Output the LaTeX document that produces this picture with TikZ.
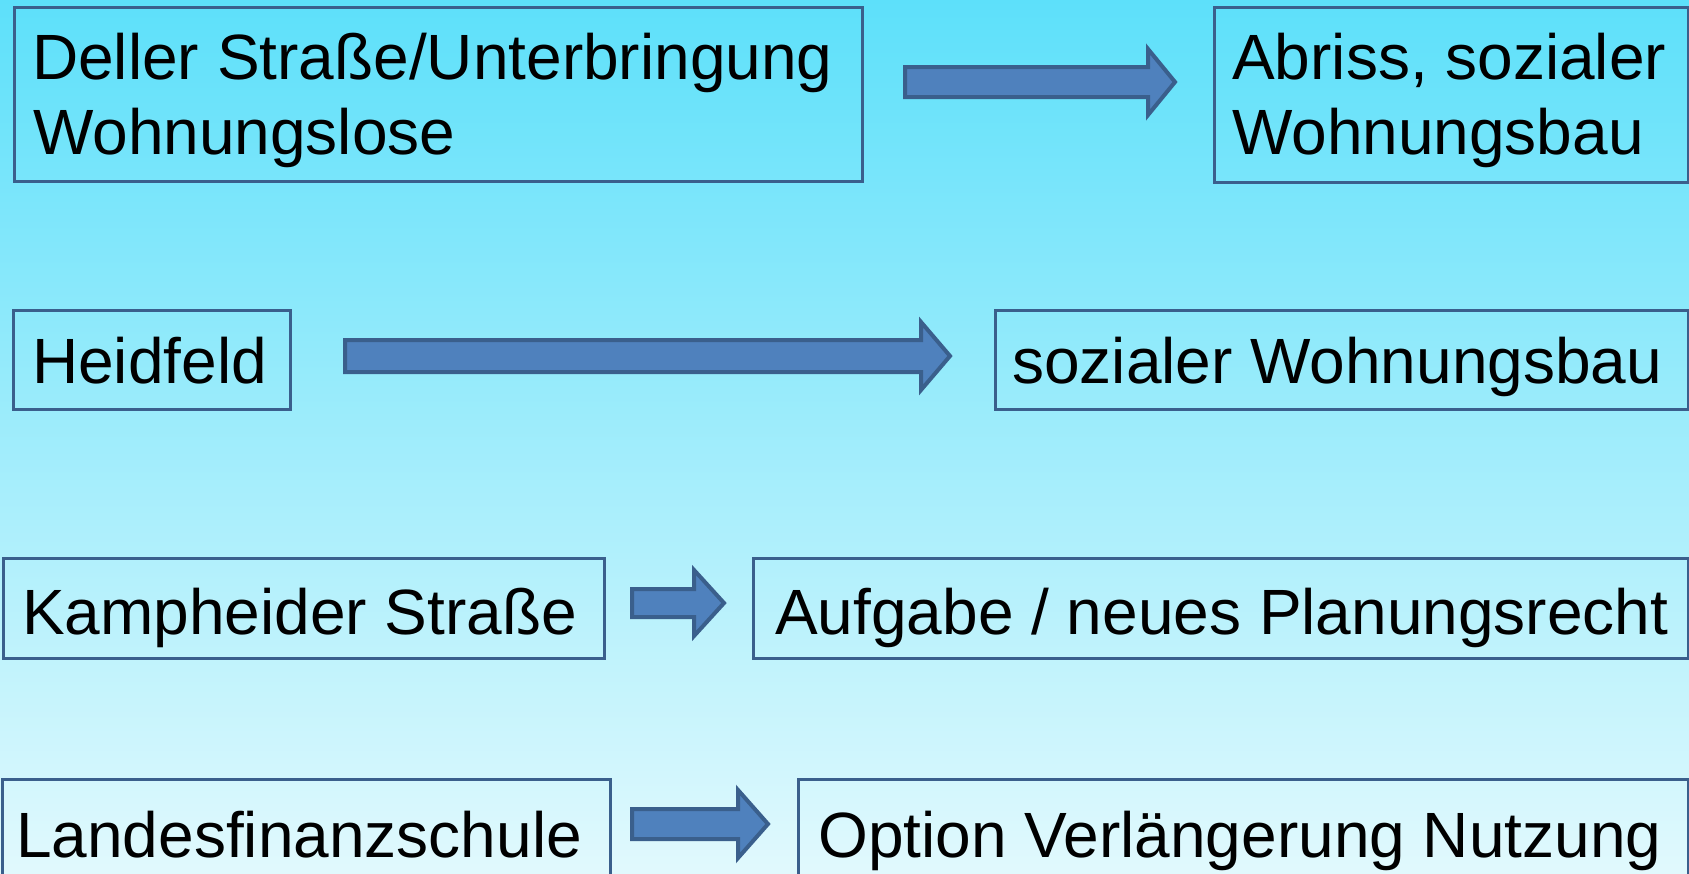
\documentclass[tikz,border=0pt]{standalone}
\usepackage{fontspec}
\setmainfont{Liberation Sans}
\definecolor{bgtop}{RGB}{93,224,250}
\definecolor{bgbot}{RGB}{225,249,253}
\definecolor{edgeblue}{RGB}{58,95,140}
\definecolor{arrfill}{RGB}{79,129,189}
\begin{document}
\begin{tikzpicture}[x=1pt,y=-1pt,
  box/.style={draw=edgeblue, line width=3pt, anchor=north west, inner sep=0pt},
  txt/.style={anchor=base west, inner sep=0pt, font=\fontsize{64}{75}\selectfont, text=black},
  blockarrow/.style={fill=arrfill, draw=edgeblue, line width=4pt, line join=miter}]
\useasboundingbox (0,0) rectangle (1689,873);
\clip (0,0) rectangle (1689,873);
\fill[top color=bgtop, bottom color=bgbot] (0,0) rectangle (1689,873);

% boxes
\node[box, minimum width=848pt, minimum height=174pt] (b1) at (13,6) {};
\node[box, minimum width=474pt, minimum height=175pt] (b2) at (1213,6) {};
\node[box, minimum width=277pt, minimum height=99pt] (b3) at (12,309) {};
\node[box, minimum width=693pt, minimum height=99pt] (b4) at (994,309) {};
\node[box, minimum width=601pt, minimum height=100pt] (b5) at (2,557) {};
\node[box, minimum width=935pt, minimum height=100pt] (b6) at (752,557) {};
\node[box, minimum width=608pt, minimum height=120pt] (b7) at (1,778) {};
\node[box, minimum width=890pt, minimum height=120pt] (b8) at (797,778) {};

% texts
\node[txt] (t1a) at (32,79) {Deller Straße/Unterbringung};
\node[txt] (t1b) at (33,154) {Wohnungslose};
\node[txt] (t2a) at (1232,79) {Abriss, sozialer};
\node[txt] (t2b) at (1232,154) {Wohnungsbau};
\node[txt] (t3) at (32,383) {Heidfeld};
\node[txt] (t4) at (1012,383) {sozialer Wohnungsbau};
\node[txt] (t5) at (22,634) {Kampheider Straße};
\node[txt] (t6) at (775,634) {Aufgabe / neues Planungsrecht};
\node[txt] (t7) at (16,857) {Landesfinanzschule};
\node[txt] (t8) at (818,857) {Option Verlängerung Nutzung};

% block arrows
\draw[blockarrow] (905,67) -- (1148,67) -- (1148,49) -- (1175,82) -- (1148,115) -- (1148,97) -- (905,97) -- cycle;
\draw[blockarrow] (345,340) -- (921,340) -- (921,322) -- (950,356) -- (921,390) -- (921,372) -- (345,372) -- cycle;
\draw[blockarrow] (632,589) -- (694,589) -- (694,570) -- (724,603) -- (694,636) -- (694,617) -- (632,617) -- cycle;
\draw[blockarrow] (632,809) -- (738,809) -- (738,790) -- (768,824) -- (738,858) -- (738,839) -- (632,839) -- cycle;
\end{tikzpicture}
\end{document}
